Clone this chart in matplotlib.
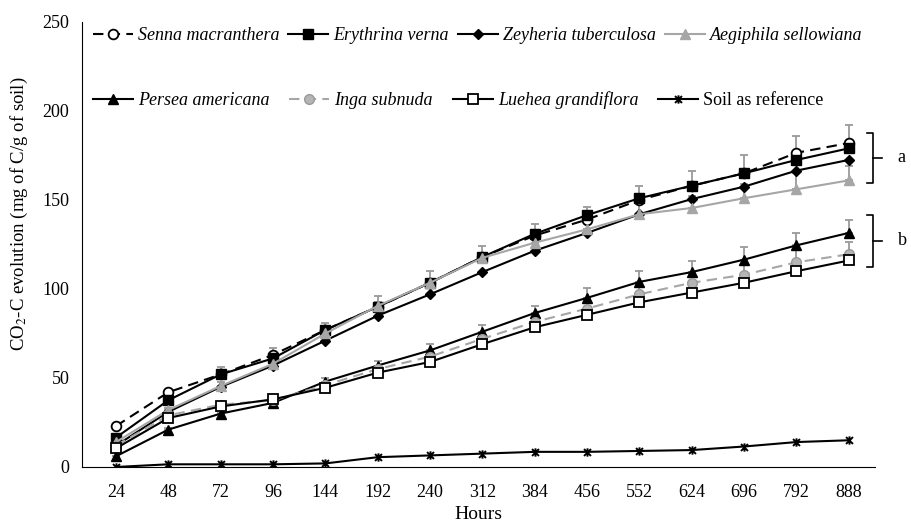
import numpy as np
import matplotlib.pyplot as plt
from matplotlib.path import Path

plt.rcParams['font.family'] = ['Liberation Serif', 'DejaVu Serif']
plt.rcParams['mathtext.fontset'] = 'stix'

hours = ['24', '48', '72', '96', '144', '192', '240', '312', '384', '456',
         '552', '624', '696', '792', '888']

senna = [23, 42, 52, 63, 77, 90, 103.5, 118, 130, 139, 150, 158, 165, 176.5, 182]
erythrina = [16.5, 37.5, 52, 61, 77, 90, 103.5, 118, 131, 141.5, 151, 158, 165, 172.5, 179]
zeyheria = [12, 31, 45, 57, 71, 85, 97, 109.5, 121.5, 131.5, 142, 150.5, 157.5, 166.5, 172.5]
aegiphila = [14, 32, 45.5, 58, 75, 90.5, 103.5, 117.5, 126, 133.5, 142, 145.5, 151, 156, 161]
persea = [6, 21, 30, 36, 48, 57, 65.5, 76, 86.5, 95, 104, 109.5, 116.5, 124.5, 131.5]
inga = [12, 29, 35, 37.5, 46, 55, 62, 72, 81.5, 89, 97, 103.5, 108, 115, 119.5]
luehea = [10.5, 27.5, 34, 38, 44.5, 53, 59, 69, 78.5, 85.5, 92.5, 98, 103.5, 110, 116]
soil = [0, 1.5, 1.5, 1.5, 2, 5.5, 6.5, 7.5, 8.5, 8.5, 9, 9.5, 11.5, 14, 15]

# upper error bars only
senna_err = [0, 1.5, 4, 4, 4, 6, 6.5, 6, 6.5, 7, 8, 8, 10, 9.5, 10]
aegiphila_err = [0, 1, 2, 2, 2, 2, 2, 2, 3, 4, 7, 7, 8, 9, 8]
persea_err = [0, 1, 1, 1.5, 2, 2.5, 3.5, 4, 4, 5.5, 6, 6, 7, 7, 7]
inga_err = [0, 1, 1, 1, 1, 2, 2, 3, 3, 4, 5, 5, 6, 7, 7]

x = np.arange(len(hours))
gray = '#a6a6a6'
ebar = dict(ecolor='#9a9a9a', elinewidth=1.3, capsize=3, capthick=1.3)

# excel-like star marker: x with a vertical stroke
star = Path([(-1, -1), (1, 1), (-1, 1), (1, -1), (0, -1.2), (0, 1.2)],
            [Path.MOVETO, Path.LINETO, Path.MOVETO, Path.LINETO,
             Path.MOVETO, Path.LINETO])

fig = plt.figure(figsize=(9.12, 5.27), dpi=100)
ax = fig.add_axes([0.0899, 0.1139, 0.8695, 0.8444])

ax.errorbar(x, senna, yerr=[np.zeros(len(x)), senna_err], fmt='none', zorder=1, **ebar)
ax.errorbar(x, aegiphila, yerr=[np.zeros(len(x)), aegiphila_err], fmt='none', zorder=1, **ebar)
ax.errorbar(x, persea, yerr=[np.zeros(len(x)), persea_err], fmt='none', zorder=1, **ebar)
ax.errorbar(x, inga, yerr=[np.zeros(len(x)), inga_err], fmt='none', zorder=1, **ebar)

h1 = ax.plot(x, senna, color='black', ls=(0, (5, 3)), lw=1.5, marker='o', ms=7,
             mfc='white', mec='black', mew=1.3, label='Senna macranthera')[0]
h2 = ax.plot(x, erythrina, color='black', lw=1.5, marker='s', ms=7,
             label='Erythrina verna')[0]
h3 = ax.plot(x, zeyheria, color='black', lw=1.5, marker='D', ms=5,
             label='Zeyheria tuberculosa')[0]
h4 = ax.plot(x, aegiphila, color=gray, lw=1.5, marker='^', ms=7,
             label='Aegiphila sellowiana')[0]
h5 = ax.plot(x, persea, color='black', lw=1.5, marker='^', ms=7,
             label='Persea americana')[0]
h6 = ax.plot(x, inga, color=gray, ls=(0, (5, 3)), lw=1.5, marker='o', ms=7,
             mfc='#b5b5b5', mec='#999999', label='Inga subnuda')[0]
h7 = ax.plot(x, luehea, color='black', lw=1.5, marker='s', ms=7,
             mfc='white', mec='black', mew=1.3, label='Luehea grandiflora')[0]
h8 = ax.plot(x, soil, color='black', lw=1.5, marker=star, ms=6, mew=1.4,
             label='Soil as reference')[0]

ax.set_xlim(-0.65, 14.5)
ax.set_ylim(0, 250)
ax.set_xticks(x)
ax.set_xticklabels(hours)
ax.set_yticks([0, 50, 100, 150, 200, 250])
ax.tick_params(axis='both', length=0, labelsize=13)
ax.tick_params(axis='y', pad=9)
ax.tick_params(axis='x', pad=12)
ax.spines['top'].set_visible(False)
ax.spines['right'].set_visible(False)
ax.set_xlabel('Hours', fontsize=14, labelpad=4)
ax.set_ylabel('CO$_2$-C evolution (mg of C/g of soil)', fontsize=13.5)
ax.yaxis.set_label_coords(-0.066, 0.569)

leg1 = ax.legend(handles=[h1, h2, h3, h4], ncol=4, frameon=False,
                 loc='upper left', bbox_to_anchor=(0.0, 1.012),
                 prop={'style': 'italic', 'size': 13}, handlelength=2.2,
                 handletextpad=0.3, columnspacing=0.5, borderaxespad=0.2)
ax.add_artist(leg1)
leg2 = ax.legend(handles=[h5, h6, h7, h8], ncol=4, frameon=False,
                 loc='upper left', bbox_to_anchor=(0.0, 0.868),
                 prop={'style': 'italic', 'size': 13}, handlelength=2.2,
                 handletextpad=0.3, columnspacing=1.1, borderaxespad=0.2)
leg2.get_texts()[3].set_fontstyle('normal')

# brackets for groups a and b
for lo, hi, lab in [(159.6, 187.6, 'a'), (112.4, 141.6, 'b')]:
    bx = 14.46
    ax.plot([bx - 0.11, bx, bx, bx - 0.11], [hi, hi, lo, lo], color='black',
            lw=1.2, clip_on=False)
    mid = (lo + hi) / 2
    ax.plot([bx, bx + 0.17], [mid, mid], color='black', lw=1.2, clip_on=False)
    ax.text(bx + 0.47, mid, lab, fontsize=13, va='center', ha='left')

fig.savefig('out.png', dpi=100)
